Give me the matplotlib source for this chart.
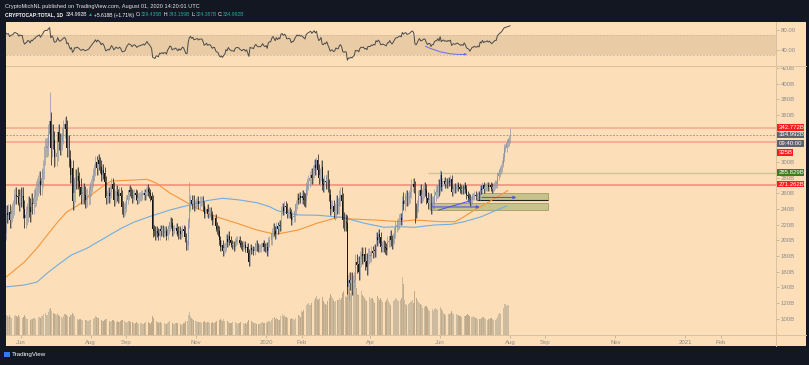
import matplotlib
matplotlib.use("Agg")
import matplotlib.dates as mdates
import matplotlib.pyplot as plt
import numpy as np
import pandas as pd
from matplotlib.lines import Line2D
from matplotlib.patches import FancyArrowPatch, Rectangle

plt.rcParams["font.family"] = ["Liberation Sans", "DejaVu Sans"]

# CRYPTOCAP:TOTAL daily closes, billions USD
month_starts = ["2019-05-01", "2019-06-01", "2019-07-01", "2019-08-01", "2019-09-01", "2019-10-01",
                "2019-11-01", "2019-12-01", "2020-01-01", "2020-02-01", "2020-03-01", "2020-04-01",
                "2020-05-01", "2020-06-01", "2020-07-01", "2020-08-01"]
close_2019_05 = [152, 156, 166, 170, 170, 168, 168, 170, 176, 186, 204, 200, 225, 232, 245, 235, 216, 210, 235,
                 232, 236, 226, 234, 238, 242, 256, 258, 256, 255, 248, 256]
close_2019_06 = [254, 256, 240, 228, 232, 236, 244, 242, 236, 248, 246, 254, 256, 264, 268, 272, 276, 270, 280, 290,
                 308, 318, 318, 320, 336, 352, 318, 336, 328, 306]
close_2019_07 = [306, 312, 338, 326, 320, 326, 334, 342, 348, 342, 318, 324, 304, 284, 292, 250, 260, 280, 276, 282,
                 276, 268, 258, 258, 262, 258, 252, 254, 256, 258, 264]
close_2019_08 = [270, 276, 284, 290, 300, 292, 302, 298, 294, 284, 290, 286, 274, 254, 256, 260, 256, 262, 272, 266,
                 252, 256, 262, 258, 256, 260, 256, 242, 238, 240, 242]
close_2019_09 = [252, 258, 264, 262, 260, 254, 258, 260, 258, 252, 254, 256, 256, 258, 258, 260, 258, 262, 266, 262,
                 260, 256, 252, 214, 212, 206, 212, 210, 206, 214]
close_2019_10 = [212, 214, 210, 212, 212, 206, 214, 218, 224, 222, 212, 214, 214, 216, 212, 208, 212, 208, 210, 214,
                 212, 204, 194, 194, 222, 244, 252, 246, 252, 244, 246]
close_2019_11 = [248, 250, 246, 250, 250, 250, 244, 234, 236, 240, 234, 236, 236, 232, 226, 228, 228, 218, 214, 212,
                 200, 192, 194, 186, 190, 192, 202, 198, 206, 200]
close_2019_12 = [196, 194, 194, 192, 198, 200, 200, 200, 196, 194, 192, 194, 194, 190, 192, 184, 172, 190, 188, 188,
                 186, 192, 196, 192, 190, 190, 190, 192, 196, 192, 190]
close_2020_01 = [192, 186, 198, 200, 200, 210, 216, 212, 208, 218, 214, 220, 218, 238, 242, 238, 244, 242, 234, 234,
                 236, 234, 226, 230, 230, 238, 246, 254, 252, 256, 254]
close_2020_02 = [256, 254, 252, 250, 266, 272, 276, 280, 284, 280, 288, 296, 292, 302, 290, 280, 284, 294, 272, 270,
                 276, 274, 282, 270, 258, 240, 244, 244, 236]
close_2020_03 = [238, 248, 244, 244, 254, 258, 250, 226, 222, 224, 222, 140, 150, 146, 150, 140, 146, 150, 172, 168,
                 170, 160, 176, 182, 180, 182, 172, 174, 166, 180, 180]
close_2020_04 = [180, 186, 184, 188, 186, 204, 200, 208, 204, 192, 192, 194, 192, 190, 188, 198, 198, 206, 200, 196,
                 202, 210, 218, 220, 222, 226, 228, 226, 250, 246]
close_2020_05 = [252, 256, 252, 254, 256, 262, 270, 272, 268, 240, 236, 244, 256, 264, 256, 258, 262, 266, 264, 254,
                 248, 252, 252, 242, 248, 248, 258, 262, 262, 270, 264]
close_2020_06 = [284, 268, 274, 276, 272, 274, 272, 276, 274, 278, 262, 266, 268, 266, 268, 270, 268, 266, 264, 266,
                 264, 270, 266, 258, 256, 254, 248, 252, 256, 256]
close_2020_07 = [258, 256, 256, 258, 256, 266, 264, 270, 266, 268, 268, 270, 268, 270, 268, 266, 268, 270, 272, 272,
                 282, 286, 290, 292, 298, 306, 318, 318, 324, 326, 329.435]
close_2020_08 = [334.992]

# typical daily wick per month (B) and notable extremes
month_wick = [10, 12, 11, 8, 6, 6, 6, 5, 6, 8, 10, 7, 8, 5, 5, 0]
high_extremes = {"2019-06-26": 389, "2019-07-09": 358, "2019-10-26": 274, "2020-02-14": 306,
                 "2020-04-30": 262, "2020-06-01": 290, "2020-08-01": 343.159}
low_extremes = {"2019-06-27": 296, "2019-09-24": 204, "2020-03-12": 132, "2020-03-13": 124,
                "2020-05-10": 222, "2020-06-27": 244, "2020-08-01": 324.387}

# daily volume (B)
vol_2019_05 = [52, 50, 58, 56, 54, 52, 55, 58, 60, 70, 84, 80, 86, 90, 84, 82, 92, 78, 80,
               76, 72, 80, 74, 70, 68, 78, 82, 76, 72, 80, 74]
vol_2019_06 = [70, 68, 74, 80, 72, 66, 64, 60, 62, 66, 64, 70, 68, 66, 70, 72, 74, 70, 76, 78,
               84, 88, 80, 82, 92, 104, 110, 96, 88, 86]
vol_2019_07 = [84, 80, 90, 82, 76, 72, 70, 78, 86, 84, 82, 76, 74, 80, 82, 88, 84, 78, 70, 66,
               62, 66, 64, 60, 62, 58, 60, 62, 58, 56, 60]
vol_2019_08 = [62, 60, 66, 70, 76, 72, 70, 68, 62, 60, 58, 56, 60, 66, 64, 60, 56, 54, 58, 60,
               62, 58, 54, 56, 52, 54, 56, 60, 62, 56, 52]
vol_2019_09 = [50, 52, 56, 58, 54, 52, 48, 46, 50, 52, 48, 46, 48, 50, 44, 46, 50, 52, 56, 54,
               48, 46, 52, 76, 70, 62, 58, 52, 50, 54]
vol_2019_10 = [52, 50, 48, 50, 46, 44, 48, 52, 56, 54, 50, 46, 44, 48, 50, 48, 46, 44, 42, 44,
               48, 50, 56, 58, 80, 92, 78, 70, 66, 62, 58]
vol_2019_11 = [56, 54, 52, 54, 52, 50, 52, 56, 54, 50, 52, 54, 50, 48, 52, 50, 48, 52, 56, 58,
               62, 66, 60, 56, 64, 58, 54, 56, 52, 50]
vol_2019_12 = [48, 50, 52, 50, 52, 48, 46, 48, 50, 52, 50, 48, 46, 48, 46, 54, 62, 68, 56, 52,
               50, 48, 50, 46, 44, 46, 48, 50, 52, 50, 48]
vol_2020_01 = [50, 52, 58, 56, 54, 62, 70, 74, 66, 70, 66, 62, 60, 78, 86, 76, 80, 74, 72, 68,
               66, 64, 70, 66, 64, 62, 70, 78, 80, 76, 74]
vol_2020_02 = [96, 94, 100, 104, 120, 126, 128, 122, 120, 130, 136, 142, 148, 156, 146, 140, 150, 160, 152, 138,
               130, 126, 122, 136, 148, 164, 156, 148, 140]
vol_2020_03 = [132, 138, 142, 140, 148, 142, 150, 170, 176, 158, 152, 224, 240, 188, 170, 186, 176, 178, 200, 190,
               164, 160, 182, 176, 162, 156, 148, 140, 136, 146, 152]
vol_2020_04 = [146, 150, 148, 140, 130, 162, 156, 148, 140, 150, 142, 134, 138, 132, 140, 148, 138, 130, 120, 134,
               138, 142, 150, 144, 140, 138, 142, 150, 232, 204]
vol_2020_05 = [140, 126, 120, 124, 128, 132, 136, 140, 130, 176, 150, 140, 132, 130, 124, 120, 110, 112, 118, 116,
               108, 102, 96, 100, 104, 98, 106, 110, 104, 100, 98]
vol_2020_06 = [112, 104, 96, 90, 86, 82, 80, 84, 86, 88, 96, 90, 84, 80, 86, 82, 80, 78, 76, 74,
               72, 76, 78, 80, 84, 82, 76, 72, 74, 76]
vol_2020_07 = [72, 70, 68, 66, 64, 66, 70, 72, 74, 70, 64, 62, 64, 66, 68, 70, 64, 62, 60, 64,
               72, 84, 90, 86, 96, 110, 126, 124, 118, 120, 122]
vol_2020_08 = [116]

# moving averages (B)
orange_dates = ["2019-05-18", "2019-06-04", "2019-06-15", "2019-06-24", "2019-07-03", "2019-07-11", "2019-07-21",
                "2019-07-29", "2019-08-07", "2019-08-13", "2019-08-19", "2019-09-08", "2019-09-19", "2019-09-27",
                "2019-10-09", "2019-10-20", "2019-11-01", "2019-11-19", "2019-12-06", "2019-12-24", "2020-01-04",
                "2020-01-11", "2020-01-29", "2020-02-15", "2020-03-05", "2020-03-16", "2020-04-05", "2020-04-25",
                "2020-05-10", "2020-06-02", "2020-06-14", "2020-06-20", "2020-07-01", "2020-07-12", "2020-07-21",
                "2020-07-30"]
orange_vals = [152, 172.4, 190.2, 206.8, 223.4, 236.2, 245.1, 254.1, 264.3, 270.6, 275.7, 277, 277.9, 273.2,
               260.4, 251.5, 241.3, 229.8, 222.1, 213.2, 209.4, 208.1, 213.2, 222.1, 229.8, 227.2, 226, 224,
               226, 223.8, 223.8, 228.5, 238.7, 247.7, 255.7, 263.4]
blue_dates = ["2019-05-18", "2019-06-04", "2019-06-15", "2019-06-24", "2019-07-03", "2019-07-15", "2019-07-29",
              "2019-08-13", "2019-08-28", "2019-09-08", "2019-09-21", "2019-10-09", "2019-10-26", "2019-11-10",
              "2019-11-24", "2019-12-09", "2019-12-24", "2020-01-04", "2020-01-11", "2020-01-29", "2020-02-15",
              "2020-03-07", "2020-03-27", "2020-04-13", "2020-04-25", "2020-05-10", "2020-05-27", "2020-06-11",
              "2020-06-22", "2020-07-07", "2020-07-19", "2020-07-29"]
blue_vals = [140.5, 143, 146.8, 158.3, 168.5, 181.3, 190.2, 203, 215.8, 223.4, 230.2, 238.7, 245.1, 250.6,
             253.7, 251.5, 248, 243, 237.8, 232.4, 232, 229.4, 221.8, 216.7, 217.4, 216.7, 219.6, 220.5,
             223.8, 230.2, 237.8, 243.8]

# horizontal levels (B)
level_red = [342.772, 325.0, 271.262]
last_price = 334.992
level_green = 285.829

tick_months = ["2019-06-01", "2019-08-01", "2019-09-01", "2019-11-01", "2020-01-01", "2020-02-01", "2020-04-01",
               "2020-06-01", "2020-08-01", "2020-09-01", "2020-11-01", "2021-01-01", "2021-02-01"]
tick_names = ["Jun", "Aug", "Sep", "Nov", "2020", "Feb", "Apr", "Jun", "Aug", "Sep", "Nov", "2021", "Feb"]
price_ticks = list(range(100, 421, 20))
hidden_ticks = [320, 340]  # covered by the scale labels

closes_by_month = [close_2019_05, close_2019_06, close_2019_07, close_2019_08, close_2019_09, close_2019_10,
                   close_2019_11, close_2019_12, close_2020_01, close_2020_02, close_2020_03, close_2020_04,
                   close_2020_05, close_2020_06, close_2020_07, close_2020_08]
vols_by_month = [vol_2019_05, vol_2019_06, vol_2019_07, vol_2019_08, vol_2019_09, vol_2019_10, vol_2019_11,
                 vol_2019_12, vol_2020_01, vol_2020_02, vol_2020_03, vol_2020_04, vol_2020_05, vol_2020_06,
                 vol_2020_07, vol_2020_08]

frames = []
for start, closes, vols, wick in zip(month_starts, closes_by_month, vols_by_month, month_wick):
    idx = pd.date_range(start, periods=len(closes), freq="D")
    frames.append(pd.DataFrame({"close": closes, "volume": vols, "wick": wick}, index=idx))
df = pd.concat(frames)
df["open"] = df["close"].shift(1).fillna(df["close"].iloc[0])
df["high"] = df[["open", "close"]].max(axis=1) + df["wick"]
df["low"] = df[["open", "close"]].min(axis=1) - df["wick"]
for d, v in high_extremes.items():
    df.loc[d, "high"] = v
for d, v in low_extremes.items():
    df.loc[d, "low"] = v

# RSI 14 (Wilder)
delta = df["close"].diff()
gain = delta.clip(lower=0).ewm(alpha=1 / 14, adjust=False).mean()
loss = (-delta.clip(upper=0)).ewm(alpha=1 / 14, adjust=False).mean()
df["rsi"] = 100 - 100 / (1 + gain / loss)

W, H = 809, 365
BG = "#fcdfb9"
GRID = "#d9c2a0"
TXT = "#8a8a8a"


def box(x0, y0, x1, y1):
    return [x0 / W, 1 - y1 / H, (x1 - x0) / W, (y1 - y0) / H]


fig = plt.figure(figsize=(W / 100, H / 100), dpi=100)
fig.patch.set_facecolor("#131722")
fig.add_artist(Rectangle((6 / W, 1 - 346 / H), 800 / W, 324 / H, transform=fig.transFigure,
                         facecolor=BG, edgecolor="none", zorder=-1))

ax_vol = fig.add_axes(box(6, 66, 776, 335))
ax = fig.add_axes(box(6, 66, 776, 335), sharex=ax_vol)
ax_rsi = fig.add_axes(box(6, 22, 776, 65), sharex=ax_vol)
for a in (ax_vol, ax, ax_rsi):
    a.set_facecolor("none")
    for s in a.spines.values():
        s.set_visible(False)

x = mdates.date2num(df.index)
up = (df["close"] >= df["open"]).to_numpy()
x_base = mdates.date2num(pd.Timestamp("2019-06-01"))
ax.set_xlim(x_base - 13.1, x_base + 659.3)

# volume
ax_vol.bar(x, df["volume"], width=0.8, color=np.where(up, "#cdbb9f", "#c0aa8a"), linewidth=0)
ax_vol.set_ylim(0, 1076)
ax_vol.axis("off")

# levels
for lv, c in zip(level_red, ["#f8a88e", "#f7a088", "#f28a74"]):
    ax.axhline(lv, color=c, lw=1.1, zorder=1)
ax.axhline(last_price, color="#8f8b85", lw=0.6, ls=(0, (2, 2)), zorder=1)
ax.hlines(level_green, mdates.date2num(pd.Timestamp("2020-05-21")), x_base + 659.3, color="#cdc39a", lw=1.0, zorder=1)

# zones
zone_color = "#c6c28b"
for (d0, d1, lo, hi) in [("2020-07-03", "2020-09-03", 251.5, 260.4), ("2020-05-23", "2020-09-03", 238.7, 247.7)]:
    x0 = mdates.date2num(pd.Timestamp(d0))
    x1 = mdates.date2num(pd.Timestamp(d1))
    ax.add_patch(Rectangle((x0, lo), x1 - x0, hi - lo, facecolor=zone_color, edgecolor="#a09d66", lw=0.6, zorder=2))
ax.hlines(251.2, mdates.date2num(pd.Timestamp("2020-07-03")), mdates.date2num(pd.Timestamp("2020-09-03")),
          color="#222222", lw=0.8, zorder=3)

# moving averages
ax.plot(mdates.date2num(pd.to_datetime(orange_dates)), orange_vals, color="#f7953a", lw=0.8, zorder=3)
ax.plot(mdates.date2num(pd.to_datetime(blue_dates)), blue_vals, color="#75acdc", lw=0.8, zorder=3)

# candles
cols = np.where(up, "#8f97a6", "#151515")
ax.vlines(x, df["low"], df["high"], colors=cols, lw=0.5, zorder=4)
body_lo = df[["open", "close"]].min(axis=1)
body_h = (df["close"] - df["open"]).abs().clip(lower=0.8)
ax.bar(x, body_h, bottom=body_lo, width=0.7, color=cols, linewidth=0, zorder=5)

# arrows
arrow_color = "#5158e0"
for (d0, p0, d1, p1) in [("2020-05-23", 242.6, "2020-07-08", 242.6), ("2020-07-05", 254.7, "2020-08-09", 254.7),
                          ("2020-05-28", 237.5, "2020-07-01", 252.0)]:
    ax.add_patch(FancyArrowPatch((mdates.date2num(pd.Timestamp(d0)), p0), (mdates.date2num(pd.Timestamp(d1)), p1),
                                 arrowstyle="-|>", mutation_scale=4, color=arrow_color, lw=0.8, zorder=6))

ax.set_ylim(79.2, 422.5)
ax.yaxis.tick_right()
ax.set_yticks(price_ticks, labels=["" if v in hidden_ticks else f"{v}B" for v in price_ticks])
ax.set_xticks(mdates.date2num(pd.to_datetime(tick_months)), labels=tick_names)
ax.tick_params(axis="both", labelsize=4.3, colors="#b9a68a", labelcolor=TXT, length=2, width=0.5, pad=1.5)

# RSI
ax_rsi.axhspan(30, 70, color="#e9cca6", lw=0)
for lv in (70, 30):
    ax_rsi.axhline(lv, color="#cbb79b", lw=0.6, ls=(0, (2, 2)))
ax_rsi.plot(x, df["rsi"], color="#4a4a4a", lw=0.7)
ax_rsi.add_patch(FancyArrowPatch((mdates.date2num(pd.Timestamp("2020-05-17")), 49.7),
                                 (mdates.date2num(pd.Timestamp("2020-06-27")), 31.1),
                                 connectionstyle="arc3,rad=0.15", arrowstyle="-|>", mutation_scale=3,
                                 color="#6a6cf0", lw=0.7))
ax_rsi.set_ylim(8.45, 97.1)
ax_rsi.yaxis.tick_right()
ax_rsi.set_yticks([80, 40], labels=["80.00", "40.00"])
ax_rsi.tick_params(axis="y", labelsize=4.3, colors="#b9a68a", labelcolor=TXT, length=2, width=0.5, pad=1.5)
ax_rsi.tick_params(axis="x", bottom=False, labelbottom=False)

# pane separators
for (xa, ya, xb, yb) in [(6, 65.5, 806, 65.5), (6, 335, 806, 335), (776, 22, 776, 346)]:
    fig.add_artist(Line2D([xa / W, xb / W], [1 - ya / H, 1 - yb / H], color=GRID, lw=0.7, zorder=3))

# price labels on the scale
for yc, label, color, x1 in [(127.5, "342.772B", "#ff1c1c", 804), (135.0, "334.992B", "#5d616c", 804),
                             (143.5, "09:40:00", "#5d616c", 804), (152.3, "325B", "#ff1c1c", 793),
                             (172.5, "285.829B", "#447a22", 804), (184.0, "271.262B", "#ff1c1c", 804)]:
    fig.add_artist(Rectangle((777 / W, 1 - (yc + 3.4) / H), (x1 - 777) / W, 6.8 / H, transform=fig.transFigure,
                             facecolor=color, edgecolor="none", zorder=5))
    fig.text(779 / W, 1 - yc / H, label, color="white", fontsize=4.3, va="center", ha="left", zorder=6)

# header
renderer = fig.canvas.get_renderer()
fig.text(5 / W, 1 - 6.5 / H, "CryptoMichNL published on TradingView.com, August 01, 2020 14:20:01 UTC",
         color="#e6e6e6", fontsize=4.1, va="center", ha="left")
pieces = [("CRYPTOCAP:TOTAL, 1D", "white", "bold"), ("334.992B", "white", "normal"), ("▲", "#26a69a", "normal"),
          ("+5.618B (+1.71%)", "white", "normal"), ("O:", "white", "normal"), ("329.435B", "#26a69a", "normal"),
          ("H:", "white", "normal"), ("343.159B", "#26a69a", "normal"), ("L:", "white", "normal"),
          ("324.387B", "#26a69a", "normal"), ("C:", "white", "normal"), ("334.992B", "#26a69a", "normal")]
gaps = [2.5, 1, 1, 1.5, 0, 1.5, 0, 1.5, 0, 1.5, 0, 0]
xp = 5
for (s, c, wgt), g in zip(pieces, gaps):
    t = fig.text(xp / W, 1 - 15 / H, s, color=c, fontsize=3.6, fontweight=wgt, va="center", ha="left")
    xp += t.get_window_extent(renderer=renderer).width + g

# footer logo
fig.add_artist(Rectangle((4 / W, 1 - 357 / H), 6 / W, 5 / H, transform=fig.transFigure,
                         facecolor="#2f7bf5", edgecolor="none"))
fig.text(12 / W, 1 - 354.5 / H, "TradingView", color="white", fontsize=4.5, va="center", ha="left")

fig.savefig("out.png", dpi=100, facecolor=fig.get_facecolor())
